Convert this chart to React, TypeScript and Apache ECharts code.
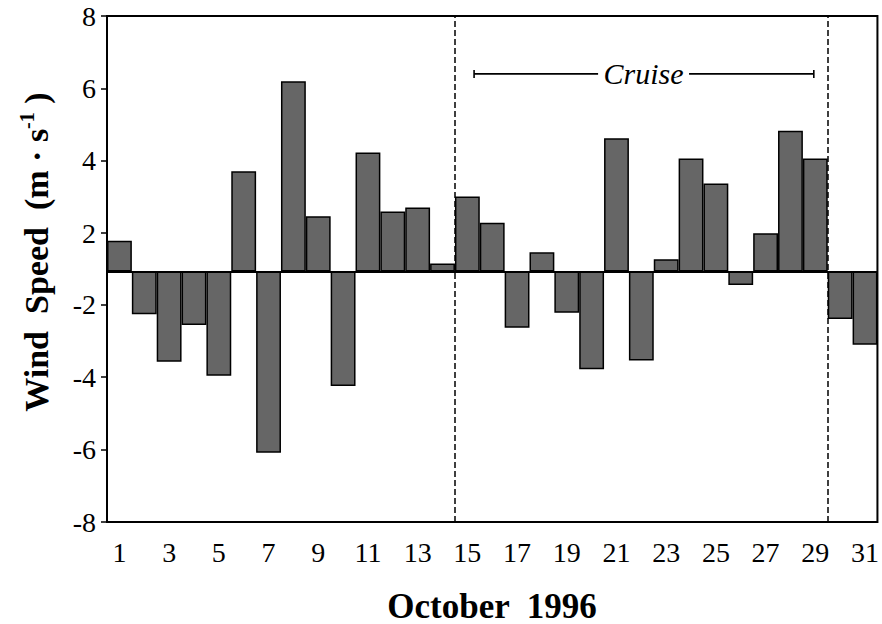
import React, { useEffect, useRef } from "react";
import * as echarts from "echarts";

// Days of October 1996
const days = [
  "1", "2", "3", "4", "5", "6", "7", "8", "9", "10",
  "11", "12", "13", "14", "15", "16", "17", "18", "19", "20",
  "21", "22", "23", "24", "25", "26", "27", "28", "29", "30", "31",
];

// Daily wind speed (m·s⁻¹)
const windSpeed = [
  1.79, -2.26, -3.57, -2.56, -3.96, 3.71, -6.09, 6.2, 2.47, -4.24,
  4.23, 2.6, 2.71, 1.16, 3.01, 2.29, -2.63, 1.47, -2.22, -3.78,
  4.62, -3.54, 1.28, 4.06, 3.37, -1.45, 2.0, 4.83, 4.06, -2.39, -3.1,
];

// Tick labels of the wind speed axis (the axis skips the band around zero)
const yTickLabels = [-8, -6, -4, -2, 2, 4, 6, 8];

// Cruise period: boundaries in day units (day i occupies [i-1, i])
const cruiseBounds = [14, 29];
// Cruise bracket: start/end, text gap, and height in wind speed units
const cruiseSpan = [14.77, 28.44];
const cruiseTextGap = [19.76, 23.42];
const cruiseLevel = 6.4;

// Broken scale: values between -2 and 2 are compressed around zero
const POS_SHIFT = 0.94;
const NEG_SHIFT = 1.08;
const toAxis = (v: number) => (v > 0 ? v - POS_SHIFT : v < 0 ? v + NEG_SHIFT : 0);
const fromAxis = (t: number) => (t > 0 ? t + POS_SHIFT : t - NEG_SHIFT);

const SERIF = '"Liberation Serif", "Times New Roman", serif';

export default function App() {
  const ref = useRef<HTMLDivElement>(null);

  useEffect(() => {
    document.body.style.margin = "0";
    if (!ref.current) return;
    const chart = echarts.init(ref.current, undefined, { renderer: "svg" });

    const tickValues = yTickLabels.map(toAxis);

    chart.setOption({
      animation: false,
      backgroundColor: "#fff",
      grid: {
        left: 107,
        right: 4,
        top: 16,
        bottom: 102,
        show: true,
        borderColor: "#000",
        borderWidth: 2,
        backgroundColor: "transparent",
      },
      xAxis: [
        {
          type: "category",
          data: days,
          boundaryGap: true,
          axisLine: { show: false },
          axisTick: { show: false },
          axisLabel: {
            interval: 1,
            margin: 16,
            color: "#000",
            fontFamily: SERIF,
            fontSize: 28,
          },
          splitLine: { show: false },
        },
        {
          type: "value",
          min: 0,
          max: 31,
          show: false,
        },
      ],
      yAxis: {
        type: "value",
        min: toAxis(-8),
        max: toAxis(8),
        axisLine: { show: false },
        axisTick: {
          show: true,
          inside: false,
          length: 6,
          lineStyle: { color: "#000", width: 1.5 },
          customValues: tickValues,
        },
        axisLabel: {
          margin: 11,
          color: "#000",
          fontFamily: SERIF,
          fontSize: 28,
          customValues: tickValues,
          formatter: (t: number) => String(Math.round(fromAxis(t))),
        },
        splitLine: { show: false },
      },
      series: [
        {
          type: "bar",
          data: windSpeed.map(toAxis),
          barCategoryGap: "0%",
          itemStyle: { color: "#666666", borderColor: "#000", borderWidth: 1.5 },
          markLine: {
            silent: true,
            symbol: "none",
            label: { show: false },
            lineStyle: { color: "#000", width: 2, type: "solid" },
            data: [{ yAxis: 0 }],
          },
        },
        {
          type: "line",
          xAxisIndex: 1,
          yAxisIndex: 0,
          data: [],
          markLine: {
            silent: true,
            symbol: "none",
            label: { show: false },
            lineStyle: { color: "#000", width: 1.5, type: [6, 3] },
            data: cruiseBounds.map((x) => ({ xAxis: x })),
          },
        },
      ],
    });

    // Cruise bracket and axis titles
    const yC = toAxis(cruiseLevel);
    const px = (x: number) => chart.convertToPixel({ seriesIndex: 1 }, [x, yC]) as number[];
    const a = px(cruiseSpan[0]);
    const b = px(cruiseTextGap[0]);
    const c = px(cruiseTextGap[1]);
    const d = px(cruiseSpan[1]);
    const mid = (b[0] + c[0]) / 2;
    const seg = (x1: number, y1: number, x2: number, y2: number) => ({
      type: "line",
      shape: { x1, y1, x2, y2 },
      style: { stroke: "#000", lineWidth: 1.6 },
      silent: true,
    });

    chart.setOption({
      graphic: [
        seg(a[0], a[1], b[0], b[1]),
        seg(c[0], c[1], d[0], d[1]),
        seg(a[0], a[1] - 4, a[0], a[1] + 4),
        seg(d[0], d[1] - 4, d[0], d[1] + 4),
        {
          type: "text",
          x: mid,
          y: a[1],
          silent: true,
          style: {
            text: "Cruise",
            font: `italic 30px ${SERIF}`,
            fill: "#000",
            align: "center",
            verticalAlign: "middle",
          },
        },
        {
          type: "text",
          x: 492,
          y: 606,
          silent: true,
          style: {
            text: "October  1996",
            font: `bold 35px ${SERIF}`,
            fill: "#000",
            align: "center",
            verticalAlign: "middle",
          },
        },
        {
          type: "text",
          x: 36,
          y: 252,
          rotation: Math.PI / 2,
          silent: true,
          style: {
            text: "Wind  Speed  (m · s{sup|-1} )",
            font: `bold 34px ${SERIF}`,
            fill: "#000",
            align: "center",
            verticalAlign: "middle",
            lineHeight: 38,
            rich: {
              sup: {
                fontFamily: SERIF,
                fontWeight: "bold",
                fontSize: 20,
                lineHeight: 20,
                verticalAlign: "top",
              },
            },
          },
        },
      ],
    });

    return () => chart.dispose();
  }, []);

  return <div ref={ref} style={{ width: 882, height: 624 }} />;
}
